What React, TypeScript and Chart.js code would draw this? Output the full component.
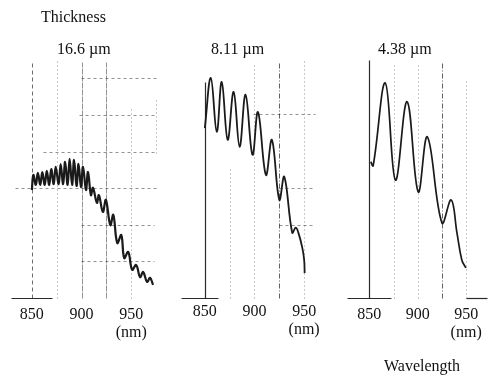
import React, { useEffect, useRef } from 'react';
import { Chart, registerables } from 'chart.js';

Chart.register(...registerables);

// ---- texts ----
const headerLabel = 'Thickness';
const axisLabel = 'Wavelength';
const panelTitles = ['16.6 µm', '8.11 µm', '4.38 µm'];
const labelledTicks = [850, 900, 950];
const unitLabel = '(nm)';

// ---- panel 1: 16.6 µm (wavelength nm, relative intensity) ----
const wl1 = [850, 851.5, 854, 856, 858.5, 860.5, 863, 865, 867.5, 869.5, 872, 874, 877, 879, 881.5, 883.5, 886, 888, 890.5, 892.5, 895, 897, 899.5, 901.5, 904.5, 906.5, 909.5, 911.5, 915.5, 917.5, 921.5, 924.5, 929, 932, 936, 940, 943, 947, 951, 955, 959, 962, 966, 969, 972];
const int1 = [2.95, 3.36, 3.09, 3.42, 3.09, 3.44, 3.09, 3.47, 3.09, 3.52, 3.11, 3.58, 3.11, 3.66, 3.11, 3.72, 3.09, 3.8, 3.09, 3.77, 3.06, 3.66, 3.03, 3.58, 2.95, 3.44, 2.81, 3.01, 2.6, 2.81, 2.35, 2.68, 1.99, 2.27, 1.5, 1.72, 1.09, 1.26, 0.77, 0.9, 0.57, 0.71, 0.44, 0.55, 0.36];

// ---- panel 2: 8.11 µm ----
const wl2 = [850, 856, 862, 867, 873, 879, 885, 891, 898, 903.5, 911.5, 917.5, 925, 930, 938, 941.5, 944, 948, 950, 950.5];
const int2 = [4.64, 6.01, 4.54, 5.9, 4.32, 5.63, 4.13, 5.55, 3.91, 5.08, 3.36, 4.32, 2.68, 3.31, 1.78, 1.92, 1.8, 1.39, 1.04, 0.68];

// ---- panel 3: 4.38 µm ----
const wl3 = [851.5, 854, 866.5, 877, 889, 900.5, 910, 925, 934.5, 940.5, 945.5, 949.7];
const int3 = [3.72, 3.61, 5.87, 3.22, 5.36, 2.9, 4.4, 2.05, 2.68, 1.78, 1.04, 0.82];

// ---- guide lines (data units) ----
// vertical: [wavelength, fromValue, toValue]
const vGuides1 = [[850, 0, 6.5], [875, 0, 6.5], [900, 0, 6.45], [925, 0, 6.45], [950, 0, 5.2], [975, 3.96, 5.5]];
const vGuides2 = [[850, 0, 5.9], [875, 0, 3.6], [900, 0, 6.45], [925, 0, 6.45], [950, 0, 6.5]];
const vGuides3 = [[850, 0, 6.5], [875, 0, 6.4], [900, 0, 6.4], [925, 0, 6.45], [950, 0, 5.96]];
// horizontal: [value, fromWavelength, toWavelength]
const hGuides1 = [[6, 899, 975], [5, 897, 975], [4, 861, 975], [3, 833, 975], [2, 899, 973], [1, 899, 973]];
const hGuides2 = [[5.03, 898, 961], [3, 925, 961], [2, 925, 961]];
const hGuides3: number[][] = [];
// baseline pieces: [fromWavelength, toWavelength]
const base1 = [[829, 870]];
const base2 = [[826, 863]];
const base3 = [[827, 872], [950, 971.5]];

const SERIF = '"Liberation Serif", "Times New Roman", Times, serif';

type Style = { dash: number[]; color: string; width: number };
const STYLES: Record<string, Style> = {
  solid: { dash: [], color: 'rgba(20,20,20,0.9)', width: 1.2 },
  grey: { dash: [6, 1], color: 'rgba(40,40,40,0.5)', width: 1 },
  dash: { dash: [4, 3], color: 'rgba(30,30,30,0.65)', width: 1 },
  dot: { dash: [1, 3], color: 'rgba(40,40,40,0.5)', width: 1 },
  dashdot: { dash: [5, 2, 1, 2], color: 'rgba(30,30,30,0.7)', width: 1 },
  hdash: { dash: [3, 3], color: 'rgba(40,40,40,0.5)', width: 1 },
  base: { dash: [], color: 'rgba(20,20,20,0.9)', width: 1.2 },
};

const panels = [
  { left: 0, width: 170, padL: 11, padR: 13, xMin: 829, xMax: 976, wl: wl1, val: int1, lw: 2.2, tickPad: 0,
    v: vGuides1, h: hGuides1, base: base1, vStyle: ['dash', 'dot', 'grey', 'grey', 'dot', 'dot'] },
  { left: 170, width: 170, padL: 11, padR: 14, xMin: 826, xMax: 972, wl: wl2, val: int2, lw: 1.8, tickPad: -3,
    v: vGuides2, h: hGuides2, base: base2, vStyle: ['solid', 'dot', 'dot', 'dashdot', 'dot'] },
  { left: 340, width: 157, padL: 7, padR: 10, xMin: 827, xMax: 971.5, wl: wl3, val: int3, lw: 1.7, tickPad: 0,
    v: vGuides3, h: hGuides3, base: base3, vStyle: ['solid', 'dot', 'dot', 'dashdot', 'dot'] },
];

function guidePlugin(p: any) {
  return {
    id: 'guides',
    beforeDatasetsDraw(chart: any) {
      const { ctx, scales } = chart;
      const xs = scales.x;
      const ys = scales.y;
      const seg = (x1: number, y1: number, x2: number, y2: number, s: Style) => {
        ctx.save();
        ctx.beginPath();
        ctx.setLineDash(s.dash);
        ctx.strokeStyle = s.color;
        ctx.lineWidth = s.width;
        ctx.moveTo(Math.round(xs.getPixelForValue(x1)) + 0.5, Math.round(ys.getPixelForValue(y1)) + 0.5);
        ctx.lineTo(Math.round(xs.getPixelForValue(x2)) + 0.5, Math.round(ys.getPixelForValue(y2)) + 0.5);
        ctx.stroke();
        ctx.restore();
      };
      p.h.forEach((g: number[]) => seg(g[1], g[0], g[2], g[0], STYLES.hdash));
      p.v.forEach((g: number[], i: number) => seg(g[0], g[1], g[0], g[2], STYLES[p.vStyle[i]]));
      p.base.forEach((g: number[]) => seg(g[0], 0, g[1], 0, STYLES.base));
    },
  };
}

export default function App() {
  const refs = [useRef<HTMLCanvasElement>(null), useRef<HTMLCanvasElement>(null), useRef<HTMLCanvasElement>(null)];

  useEffect(() => {
    const charts = panels.map((p, i) => {
      const canvas = refs[i].current!;
      return new Chart(canvas, {
        type: 'line',
        data: {
          datasets: [
            {
              data: p.wl.map((w, k) => ({ x: w, y: p.val[k] })),
              borderColor: '#1a1a1a',
              borderWidth: p.lw,
              pointRadius: 0,
              tension: 0.4,
              fill: false,
            },
          ],
        },
        options: {
          responsive: false,
          animation: false,
          events: [],
          layout: { padding: { left: p.padL, right: p.padR, top: 60, bottom: 0 } },
          plugins: { legend: { display: false }, tooltip: { enabled: false }, title: { display: false } },
          scales: {
            x: {
              type: 'linear',
              min: p.xMin,
              max: p.xMax,
              grid: { display: false },
              border: { display: false },
              afterBuildTicks: (s: any) => {
                s.ticks = labelledTicks.map((v) => ({ value: v }));
              },
              afterFit: (s: any) => {
                s.height = 78;
              },
              ticks: {
                autoSkip: false,
                maxRotation: 0,
                minRotation: 0,
                padding: p.tickPad,
                color: '#111',
                font: { family: SERIF, size: 16, lineHeight: 1.1 },
                callback: (v: any) => (v === 950 ? [String(v), unitLabel] : String(v)),
              },
            },
            y: { type: 'linear', display: false, min: 0, max: 6.5 },
          },
        } as any,
        plugins: [guidePlugin(p)],
      });
    });
    return () => charts.forEach((c) => c.destroy());
  }, []);

  const text = (content: string, left: number, top: number) => (
    <div
      style={{
        position: 'absolute',
        left,
        top,
        fontFamily: SERIF,
        fontSize: 16,
        lineHeight: '16px',
        color: '#111',
        whiteSpace: 'nowrap',
      }}
    >
      {content}
    </div>
  );

  return (
    <div style={{ position: 'fixed', left: 0, top: 0, width: 497, height: 376, background: '#fff', overflow: 'hidden' }}>
      {panels.map((p, i) => (
        <canvas
          key={i}
          ref={refs[i]}
          width={p.width}
          height={376}
          style={{ position: 'absolute', left: p.left, top: 0, width: p.width, height: 376 }}
        />
      ))}
      {text(headerLabel, 41, 9)}
      {text(panelTitles[0], 57, 41)}
      {text(panelTitles[1], 211, 41)}
      {text(panelTitles[2], 378, 41)}
      {text(axisLabel, 384, 358)}
    </div>
  );
}
